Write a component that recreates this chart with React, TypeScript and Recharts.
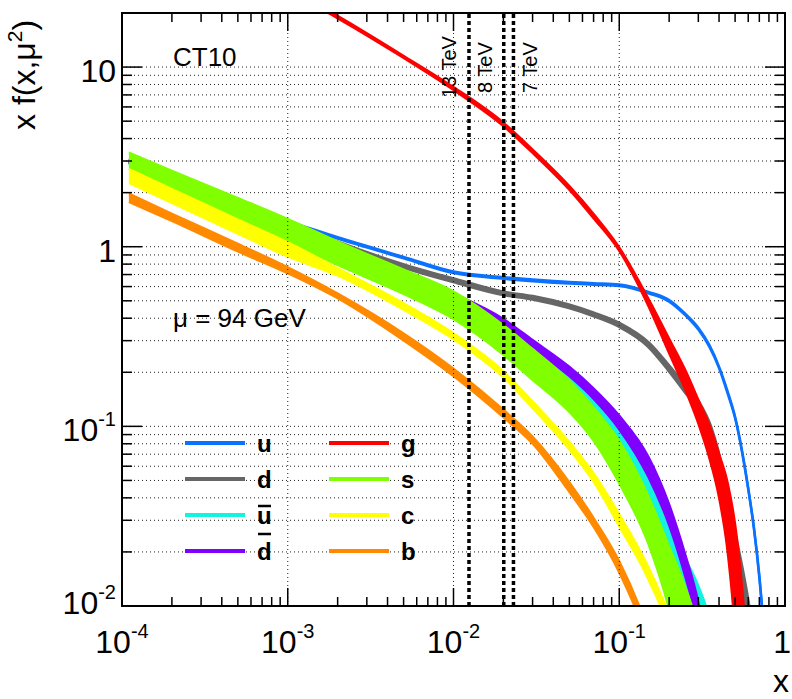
import React from 'react';
import {
  ComposedChart,
  Area,
  XAxis,
  YAxis,
  CartesianGrid,
  ReferenceLine,
  ReferenceArea,
  Legend,
} from 'recharts';

// x sampling points shared by every curve
const xs = [0.00011, 0.0002, 0.0005, 0.001, 0.002, 0.005, 0.01, 0.02, 0.03, 0.05, 0.07, 0.1, 0.15, 0.2, 0.25, 0.3, 0.35, 0.4, 0.45, 0.5, 0.55, 0.6, 0.65, 0.7, 0.75];

// each parton: lower / upper edge of its band (null = far below the plot)
const uLo = [3.02, 2.43, 1.73, 1.37, 1.11, 0.862, 0.713, 0.663, 0.643, 0.624, 0.614, 0.604, 0.55, 0.495, 0.416, 0.346, 0.277, 0.211, 0.153, 0.111, 0.0723, 0.0445, 0.0267, 0.0144, 0.0068];
const uHi = [3.08, 2.47, 1.77, 1.39, 1.13, 0.878, 0.727, 0.677, 0.657, 0.636, 0.626, 0.616, 0.56, 0.505, 0.424, 0.354, 0.283, 0.215, 0.157, 0.113, 0.0737, 0.0455, 0.0273, 0.0148, 0.007];

const dLo = [2.98, 2.38, 1.71, 1.34, 1.03, 0.775, 0.645, 0.547, 0.517, 0.462, 0.417, 0.364, 0.282, 0.207, 0.158, 0.125, 0.091, 0.058, 0.033, 0.0195, 0.0117, 0.0072, 0.0037, 0.0014, 0.0004];
const dHi = [3.02, 2.42, 1.73, 1.36, 1.05, 0.785, 0.655, 0.553, 0.523, 0.468, 0.423, 0.37, 0.288, 0.213, 0.166, 0.135, 0.101, 0.066, 0.039, 0.024, 0.0155, 0.0098, 0.0054, 0.0023, 0.0008];

const ubarLo = [2.9, 2.3, 1.6, 1.27, 0.95, 0.64, 0.46, 0.32, 0.24, 0.16, 0.115, 0.075, 0.035, 0.017, 0.009, 0.0045, 0.0018, 0.0006, 0.0002, 0.00008, null, null, null, null, null];
const ubarHi = [3.0, 2.4, 1.68, 1.33, 1.0, 0.69, 0.5, 0.36, 0.28, 0.2, 0.15, 0.108, 0.058, 0.03, 0.0185, 0.013, 0.0085, 0.0042, 0.0015, 0.0004, null, null, null, null, null];

const dbarLo = [2.95, 2.35, 1.65, 1.3, 0.98, 0.68, 0.5, 0.35, 0.268, 0.19, 0.142, 0.096, 0.052, 0.028, 0.0145, 0.0075, 0.003, 0.0009, 0.0001, null, null, null, null, null, null];
const dbarHi = [3.05, 2.45, 1.72, 1.36, 1.03, 0.72, 0.55, 0.397, 0.303, 0.215, 0.163, 0.115, 0.068, 0.037, 0.0195, 0.0105, 0.0045, 0.0014, 0.0004, null, null, null, null, null, null];

const gLo = [67, 53.5, 37, 26.7, 18.8, 11.3, 7.5, 4.72, 3.35, 2.09, 1.45, 0.957, 0.472, 0.258, 0.162, 0.105, 0.0674, 0.0411, 0.021, 0.00765, 0.00205, 0.000445, 0.000089, null, null];
const gHi = [69, 55, 38, 27.3, 19.2, 11.5, 7.7, 4.88, 3.45, 2.16, 1.51, 0.983, 0.509, 0.305, 0.204, 0.139, 0.1003, 0.0694, 0.0479, 0.0276, 0.0123, 0.00447, 0.00115, null, null];

const sLo = [2.71, 2.1, 1.42, 1.06, 0.79, 0.545, 0.395, 0.25, 0.181, 0.12, 0.083, 0.048, 0.022, 0.0095, 0.0038, 0.0013, 0.0004, 0.0001, 0.00003, null, null, null, null, null, null];
const sHi = [3.35, 2.65, 1.87, 1.43, 1.07, 0.747, 0.565, 0.367, 0.27, 0.18, 0.128, 0.083, 0.041, 0.0215, 0.0128, 0.0075, 0.0035, 0.0012, 0.0003, null, null, null, null, null, null];

const cLo = [2.26, 1.75, 1.18, 0.88, 0.69, 0.445, 0.305, 0.187, 0.126, 0.074, 0.049, 0.0277, 0.014, 0.0073, 0.0032, 0.0012, 0.0004, 0.0001, null, null, null, null, null, null, null];
const cHi = [2.71, 2.1, 1.42, 1.06, 0.76, 0.485, 0.33, 0.203, 0.138, 0.082, 0.055, 0.0325, 0.0165, 0.0088, 0.0042, 0.0017, 0.0006, 0.00016, null, null, null, null, null, null, null];

const bLo = [1.77, 1.39, 0.94, 0.71, 0.515, 0.3, 0.19, 0.112, 0.08, 0.043, 0.0275, 0.0153, 0.0062, 0.0024, 0.0009, 0.0003, 0.00009, null, null, null, null, null, null, null, null];
const bHi = [1.98, 1.53, 1.04, 0.77, 0.55, 0.33, 0.21, 0.124, 0.088, 0.049, 0.031, 0.0178, 0.0073, 0.003, 0.0012, 0.00045, 0.00014, null, null, null, null, null, null, null, null];

// axis ticks
const xMajorTicks = [1e-4, 1e-3, 1e-2, 1e-1, 1];
const xMajorLabels = [['10', '-4'], ['10', '-3'], ['10', '-2'], ['10', '-1'], ['1', '']];
const yMajorTicks = [0.01, 0.1, 1, 10];
const yMajorLabels = [['10', '-2'], ['10', '-1'], ['1', ''], ['10', '']];
const minorSteps = [2, 3, 4, 5, 6, 7, 8, 9];

// sqrt(s) reference lines
const tevX = [0.0124, 0.0201, 0.023];
const tevNames = ['13 TeV', '8 TeV', '7 TeV'];

const legendKeys = ['u', 'd', 'ubar', 'dbar', 'g', 's', 'c', 'b'];
const legendNames = ['u', 'd', 'u', 'd', 'g', 's', 'c', 'b'];

const COLORS: Record<string, string> = {
  u: '#0a72ff',
  d: '#666666',
  ubar: '#14f2e0',
  dbar: '#7f00ff',
  g: '#ff0000',
  s: '#80ff00',
  c: '#ffff00',
  b: '#ff8a00',
};
const STROKE: Record<string, number> = { u: 2.5, d: 5, ubar: 2, dbar: 2, g: 3, s: 2, c: 2, b: 2 };

const W = 792;
const H = 699;
const PLOT = { left: 122, top: 13, right: 785, bottom: 606 };
const FONT = '"Liberation Sans", Arial, Helvetica, sans-serif';

const xTicks = [
  ...xMajorTicks,
  ...xMajorTicks.slice(0, -1).flatMap((d) => minorSteps.map((m) => d * m)),
];
const yTicks = [
  ...yMajorTicks,
  ...yMajorTicks.slice(0, -1).flatMap((d) => minorSteps.map((m) => d * m)),
];

const band = (lo: (number | null)[], hi: (number | null)[], i: number) =>
  lo[i] == null || hi[i] == null ? null : [lo[i], hi[i]];

const data = xs.map((x, i) => ({
  x,
  u: band(uLo, uHi, i),
  d: band(dLo, dHi, i),
  ubar: band(ubarLo, ubarHi, i),
  dbar: band(dbarLo, dbarHi, i),
  g: band(gLo, gHi, i),
  s: band(sLo, sHi, i),
  c: band(cLo, cHi, i),
  b: band(bLo, bHi, i),
}));

function XTick(props: any) {
  const { x, y, payload } = props;
  const idx = xMajorTicks.indexOf(payload.value);
  const len = idx >= 0 ? 18 : 9;
  const last = idx === xMajorTicks.length - 1;
  return (
    <g>
      <line x1={x} x2={x} y1={y} y2={y - len} stroke="#000" strokeWidth={1.5} />
      <line x1={x} x2={x} y1={PLOT.top} y2={PLOT.top + len} stroke="#000" strokeWidth={1.5} />
      {idx >= 0 && (
        <text
          x={last ? x + 6 : x}
          y={y + 47}
          textAnchor={last ? 'end' : 'middle'}
          fontSize={32}
          fontFamily={FONT}
          fill="#000"
        >
          {xMajorLabels[idx][0]}
          {xMajorLabels[idx][1] && (
            <tspan dy={-15} fontSize={20}>
              {xMajorLabels[idx][1]}
            </tspan>
          )}
        </text>
      )}
    </g>
  );
}

function YTick(props: any) {
  const { x, y, payload } = props;
  const idx = yMajorTicks.indexOf(payload.value);
  const len = idx >= 0 ? 20 : 10;
  return (
    <g>
      <line x1={x} x2={x + len} y1={y} y2={y} stroke="#000" strokeWidth={1.5} />
      <line x1={PLOT.right} x2={PLOT.right - len} y1={y} y2={y} stroke="#000" strokeWidth={1.5} />
      {idx >= 0 && (
        <text x={x - 6} y={y + (idx === 0 ? 8 : 15)} textAnchor="end" fontSize={32} fontFamily={FONT} fill="#000">
          {yMajorLabels[idx][0]}
          {yMajorLabels[idx][1] && (
            <tspan dy={-15} fontSize={20}>
              {yMajorLabels[idx][1]}
            </tspan>
          )}
        </text>
      )}
    </g>
  );
}

const tevLabelPos = [
  { dx: -13, y: 98 },
  { dx: -12, y: 93 },
  { dx: 24, y: 93 },
];

function Annotations() {
  return (
    <svg
      width={W}
      height={H}
      style={{ position: 'absolute', left: 0, top: 0, overflow: 'visible', pointerEvents: 'none' }}
    >
      <text x={173} y={66} fontSize={26} fontFamily={FONT} fill="#000">
        CT10
      </text>
      <text x={173} y={327} fontSize={26} fontFamily={FONT} fill="#000">
        μ = 94 GeV
      </text>
      {legendKeys.map((k, i) => {
        const col = i < 4 ? 0 : 1;
        const ly = 443 + (i % 4) * 36;
        const lx = col ? 329 : 185;
        const tx = col ? 401 : 257;
        const bar = k === 'ubar' || k === 'dbar';
        const barY = ly - (k === 'dbar' ? 17 : 9);
        return (
          <g key={k}>
            <line x1={lx} x2={lx + 60} y1={ly} y2={ly} stroke={COLORS[k]} strokeWidth={4} />
            <text x={tx} y={ly + 9} fontSize={24} fontWeight="bold" fontFamily={FONT} fill="#000">
              {legendNames[i]}
            </text>
            {bar && <line x1={tx + 1} x2={tx + 14} y1={barY} y2={barY} stroke="#000" strokeWidth={2.5} />}
          </g>
        );
      })}
    </svg>
  );
}

export default function App() {
  return (
    <div style={{ position: 'absolute', left: 0, top: 0, width: W, height: H, background: '#fff' }}>
      <ComposedChart
        width={W}
        height={H}
        data={data}
        margin={{ top: PLOT.top, right: W - PLOT.right, bottom: 0, left: 0 }}
      >
        <CartesianGrid vertical={false} stroke="#222" strokeDasharray="1 3" />
        {xMajorTicks.slice(1, -1).map((v) => (
          <ReferenceLine key={v} x={v} stroke="#222" strokeDasharray="1 3" />
        ))}
        <XAxis
          dataKey="x"
          type="number"
          scale="log"
          domain={[1e-4, 1]}
          allowDataOverflow
          ticks={xTicks}
          interval={0}
          tickSize={0}
          tickMargin={0}
          tickLine={false}
          axisLine={false}
          tick={XTick}
          height={H - PLOT.bottom}
          label={{
            content: () => (
              <text x={789} y={692} textAnchor="end" fontSize={32} fontFamily={FONT} fill="#000">
                x
              </text>
            ),
          }}
        />
        <YAxis
          type="number"
          scale="log"
          domain={[0.01, 20]}
          allowDataOverflow
          ticks={yTicks}
          interval={0}
          tickSize={0}
          tickMargin={0}
          tickLine={false}
          axisLine={false}
          tick={YTick}
          width={PLOT.left}
          label={{
            content: () => (
              <text transform="rotate(-90 35 130)" x={35} y={130} fontSize={32} fontFamily={FONT} fill="#000">
                x f(x,μ
                <tspan dy={-13} fontSize={21}>
                  2
                </tspan>
                <tspan dy={13}>)</tspan>
              </text>
            ),
          }}
        />
        {legendKeys.map((k) => (
          <Area
            key={k}
            type="monotone"
            dataKey={k}
            stroke={COLORS[k]}
            strokeWidth={STROKE[k]}
            fill={COLORS[k]}
            fillOpacity={1}
            dot={false}
            activeDot={false}
            isAnimationActive={false}
          />
        ))}
        {tevX.map((v, i) => (
          <ReferenceLine
            key={v}
            x={v}
            stroke="#000"
            strokeWidth={3.5}
            strokeDasharray="4 3"
            label={{
              content: (p: any) => {
                const bx = p.viewBox.x + tevLabelPos[i].dx;
                const by = tevLabelPos[i].y;
                return (
                  <text
                    transform={`rotate(-90 ${bx} ${by})`}
                    x={bx}
                    y={by}
                    fontSize={20}
                    fontFamily={FONT}
                    fill="#000"
                  >
                    {tevNames[i]}
                  </text>
                );
              },
            }}
          />
        ))}
        <ReferenceArea
          x1={1e-4}
          x2={1}
          y1={0.01}
          y2={20}
          fill="none"
          fillOpacity={0}
          stroke="#000"
          strokeWidth={2}
          ifOverflow="visible"
        />
        <Legend
          layout="vertical"
          align="center"
          verticalAlign="middle"
          content={() => <Annotations />}
          wrapperStyle={{ left: 0, top: 0, width: W, height: H, pointerEvents: 'none' }}
        />
      </ComposedChart>
    </div>
  );
}
